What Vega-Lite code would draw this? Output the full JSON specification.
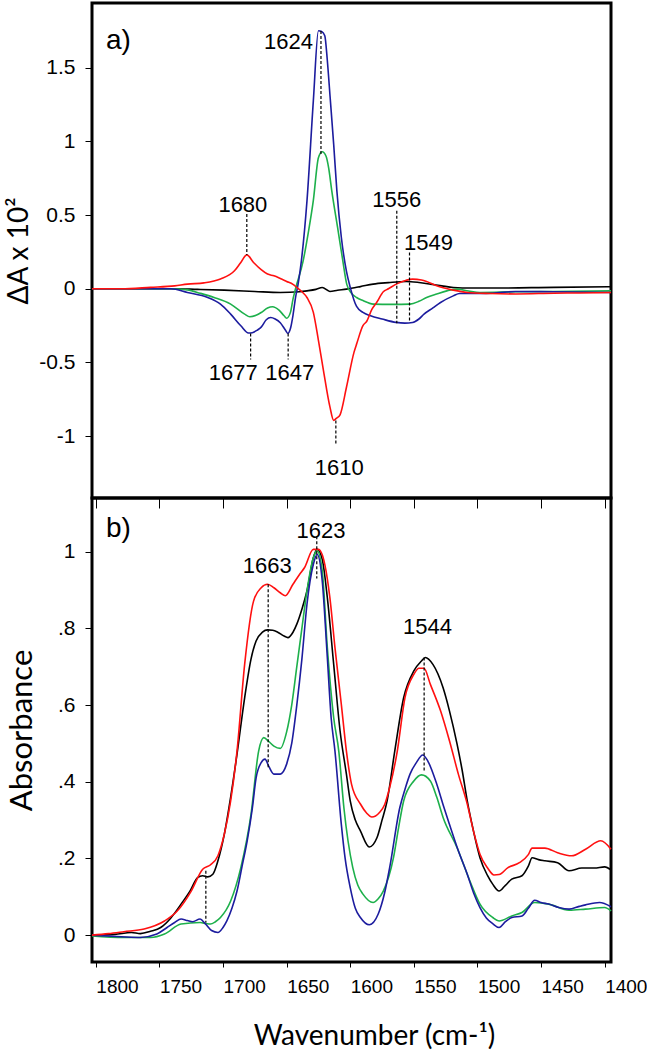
{
  "$schema": "https://vega.github.io/schema/vega-lite/v6.json",
  "background": "white",
  "padding": {"left": 4, "top": 1, "right": 0, "bottom": 2},
  "spacing": 0,
  "bounds": "flush",
  "config": {
    "view": {"stroke": "black", "strokeWidth": 3},
    "axis": {"grid": false, "domain": false, "tickColor": "black", "labelColor": "black", "titleColor": "black", "labelFont": "Liberation Sans", "titleFont": "Lato", "titleFontWeight": "normal", "labelOverlap": false}
  },
  "datasets": {
    "a": [
      {"s":"black","x":1803,"y":0},{"s":"black","x":1760,"y":0},{"s":"black","x":1738,"y":0},{"s":"black","x":1720,"y":-0.004},{"s":"black","x":1699,"y":-0.009},{"s":"black","x":1675,"y":-0.018},{"s":"black","x":1655,"y":-0.025},{"s":"black","x":1640,"y":-0.02},{"s":"black","x":1634,"y":-0.014},{"s":"black","x":1627,"y":-0.004},{"s":"black","x":1622,"y":0.009},{"s":"black","x":1616,"y":-0.018},{"s":"black","x":1610,"y":-0.01},{"s":"black","x":1603,"y":-0.002},{"s":"black","x":1592,"y":0.015},{"s":"black","x":1582,"y":0.032},{"s":"black","x":1570,"y":0.042},{"s":"black","x":1556,"y":0.05},{"s":"black","x":1546,"y":0.043},{"s":"black","x":1537,"y":0.032},{"s":"black","x":1528,"y":0.02},{"s":"black","x":1519,"y":0.009},{"s":"black","x":1505,"y":0.005},{"s":"black","x":1490,"y":0.005},{"s":"black","x":1440,"y":0.01},{"s":"black","x":1395,"y":0.014},
      {"s":"green","x":1803,"y":0},{"s":"green","x":1760,"y":0},{"s":"green","x":1740,"y":0},{"s":"green","x":1728,"y":-0.007},{"s":"green","x":1718,"y":-0.03},{"s":"green","x":1707,"y":-0.059},{"s":"green","x":1694,"y":-0.104},{"s":"green","x":1683,"y":-0.172},{"s":"green","x":1679,"y":-0.19},{"s":"green","x":1674,"y":-0.18},{"s":"green","x":1670,"y":-0.161},{"s":"green","x":1665,"y":-0.13},{"s":"green","x":1661,"y":-0.122},{"s":"green","x":1656,"y":-0.145},{"s":"green","x":1652,"y":-0.183},{"s":"green","x":1650,"y":-0.2},{"s":"green","x":1647,"y":-0.16},{"s":"green","x":1645,"y":-0.07},{"s":"green","x":1643,"y":0},{"s":"green","x":1637,"y":0.19},{"s":"green","x":1633,"y":0.38},{"s":"green","x":1629,"y":0.6},{"s":"green","x":1625,"y":0.89},{"s":"green","x":1622,"y":0.93},{"s":"green","x":1619,"y":0.9},{"s":"green","x":1617,"y":0.823},{"s":"green","x":1614.5,"y":0.665},{"s":"green","x":1610,"y":0.42},{"s":"green","x":1606,"y":0.2},{"s":"green","x":1602.7,"y":0.03},{"s":"green","x":1599,"y":-0.03},{"s":"green","x":1595,"y":-0.059},{"s":"green","x":1590,"y":-0.08},{"s":"green","x":1582,"y":-0.104},{"s":"green","x":1567,"y":-0.106},{"s":"green","x":1553,"y":-0.104},{"s":"green","x":1546,"y":-0.085},{"s":"green","x":1540,"y":-0.059},{"s":"green","x":1532,"y":-0.035},{"s":"green","x":1524,"y":-0.014},{"s":"green","x":1516,"y":-0.002},{"s":"green","x":1507,"y":-0.015},{"s":"green","x":1498,"y":-0.025},{"s":"green","x":1470,"y":-0.02},{"s":"green","x":1440,"y":-0.018},{"s":"green","x":1395,"y":-0.014},
      {"s":"blue","x":1803,"y":0},{"s":"blue","x":1760,"y":0},{"s":"blue","x":1741,"y":0},{"s":"blue","x":1728,"y":-0.025},{"s":"blue","x":1712,"y":-0.059},{"s":"blue","x":1702,"y":-0.104},{"s":"blue","x":1694,"y":-0.172},{"s":"blue","x":1686,"y":-0.251},{"s":"blue","x":1680,"y":-0.3},{"s":"blue","x":1677,"y":-0.298},{"s":"blue","x":1673,"y":-0.28},{"s":"blue","x":1670,"y":-0.26},{"s":"blue","x":1666,"y":-0.21},{"s":"blue","x":1662.5,"y":-0.195},{"s":"blue","x":1659,"y":-0.205},{"s":"blue","x":1655,"y":-0.23},{"s":"blue","x":1651,"y":-0.28},{"s":"blue","x":1649,"y":-0.303},{"s":"blue","x":1647,"y":-0.27},{"s":"blue","x":1645,"y":-0.18},{"s":"blue","x":1643,"y":-0.06},{"s":"blue","x":1641,"y":0.03},{"s":"blue","x":1638.4,"y":0.19},{"s":"blue","x":1634,"y":0.597},{"s":"blue","x":1629,"y":1.276},{"s":"blue","x":1625,"y":1.752},{"s":"blue","x":1622.5,"y":1.747},{"s":"blue","x":1620,"y":1.718},{"s":"blue","x":1618,"y":1.55},{"s":"blue","x":1615.8,"y":1.3},{"s":"blue","x":1613,"y":0.98},{"s":"blue","x":1610.5,"y":0.665},{"s":"blue","x":1607,"y":0.35},{"s":"blue","x":1603,"y":0.12},{"s":"blue","x":1600,"y":0.01},{"s":"blue","x":1595,"y":-0.12},{"s":"blue","x":1590,"y":-0.16},{"s":"blue","x":1584,"y":-0.183},{"s":"blue","x":1575,"y":-0.205},{"s":"blue","x":1564,"y":-0.228},{"s":"blue","x":1557,"y":-0.233},{"s":"blue","x":1551,"y":-0.229},{"s":"blue","x":1546,"y":-0.205},{"s":"blue","x":1542,"y":-0.172},{"s":"blue","x":1535,"y":-0.13},{"s":"blue","x":1529,"y":-0.093},{"s":"blue","x":1519,"y":-0.048},{"s":"blue","x":1514,"y":-0.032},{"s":"blue","x":1498,"y":-0.032},{"s":"blue","x":1488,"y":-0.03},{"s":"blue","x":1470,"y":-0.018},{"s":"blue","x":1440,"y":-0.02},{"s":"blue","x":1395,"y":-0.025},
      {"s":"red","x":1803,"y":0},{"s":"red","x":1780,"y":0},{"s":"red","x":1757,"y":0.01},{"s":"red","x":1738,"y":0.02},{"s":"red","x":1728,"y":0.032},{"s":"red","x":1715,"y":0.04},{"s":"red","x":1702,"y":0.066},{"s":"red","x":1691,"y":0.122},{"s":"red","x":1686,"y":0.179},{"s":"red","x":1681.3,"y":0.23},{"s":"red","x":1676,"y":0.179},{"s":"red","x":1670,"y":0.13},{"s":"red","x":1665,"y":0.1},{"s":"red","x":1660,"y":0.088},{"s":"red","x":1655,"y":0.07},{"s":"red","x":1650,"y":0.05},{"s":"red","x":1645,"y":0.03},{"s":"red","x":1642,"y":0.009},{"s":"red","x":1638,"y":-0.02},{"s":"red","x":1634,"y":-0.059},{"s":"red","x":1629,"y":-0.16},{"s":"red","x":1625,"y":-0.35},{"s":"red","x":1621,"y":-0.557},{"s":"red","x":1616,"y":-0.8},{"s":"red","x":1613,"y":-0.893},{"s":"red","x":1611,"y":-0.88},{"s":"red","x":1608,"y":-0.855},{"s":"red","x":1603,"y":-0.67},{"s":"red","x":1597,"y":-0.43},{"s":"red","x":1594.8,"y":-0.37},{"s":"red","x":1590,"y":-0.25},{"s":"red","x":1587,"y":-0.22},{"s":"red","x":1583,"y":-0.14},{"s":"red","x":1579,"y":-0.09},{"s":"red","x":1574,"y":-0.02},{"s":"red","x":1570,"y":0.0},{"s":"red","x":1563,"y":0.035},{"s":"red","x":1556,"y":0.058},{"s":"red","x":1551,"y":0.066},{"s":"red","x":1544,"y":0.06},{"s":"red","x":1540,"y":0.05},{"s":"red","x":1532,"y":0.02},{"s":"red","x":1519,"y":-0.009},{"s":"red","x":1508,"y":-0.025},{"s":"red","x":1490,"y":-0.032},{"s":"red","x":1470,"y":-0.035},{"s":"red","x":1440,"y":-0.03},{"s":"red","x":1420,"y":-0.028},{"s":"red","x":1395,"y":-0.025}
    ],
    "b": [
      {"s":"black","x":1803,"y":0},{"s":"black","x":1785,"y":0.002},{"s":"black","x":1772,"y":0.007},{"s":"black","x":1765,"y":0.004},{"s":"black","x":1757,"y":0.01},{"s":"black","x":1749,"y":0.02},{"s":"black","x":1741,"y":0.045},{"s":"black","x":1733,"y":0.081},{"s":"black","x":1726,"y":0.115},{"s":"black","x":1720,"y":0.15},{"s":"black","x":1716,"y":0.155},{"s":"black","x":1712,"y":0.152},{"s":"black","x":1708,"y":0.159},{"s":"black","x":1704,"y":0.194},{"s":"black","x":1699,"y":0.263},{"s":"black","x":1694,"y":0.36},{"s":"black","x":1689,"y":0.472},{"s":"black","x":1683,"y":0.619},{"s":"black","x":1678,"y":0.72},{"s":"black","x":1674,"y":0.767},{"s":"black","x":1669,"y":0.79},{"s":"black","x":1665,"y":0.796},{"s":"black","x":1661,"y":0.795},{"s":"black","x":1657,"y":0.79},{"s":"black","x":1652,"y":0.78},{"s":"black","x":1649,"y":0.776},{"s":"black","x":1645,"y":0.79},{"s":"black","x":1642,"y":0.811},{"s":"black","x":1638,"y":0.85},{"s":"black","x":1634,"y":0.898},{"s":"black","x":1629,"y":0.984},{"s":"black","x":1626,"y":1.006},{"s":"black","x":1622,"y":0.98},{"s":"black","x":1618,"y":0.88},{"s":"black","x":1613,"y":0.706},{"s":"black","x":1608,"y":0.533},{"s":"black","x":1603,"y":0.42},{"s":"black","x":1600,"y":0.35},{"s":"black","x":1596,"y":0.3},{"s":"black","x":1592,"y":0.272},{"s":"black","x":1585,"y":0.23},{"s":"black","x":1579,"y":0.254},{"s":"black","x":1575,"y":0.3},{"s":"black","x":1571,"y":0.35},{"s":"black","x":1565,"y":0.48},{"s":"black","x":1558,"y":0.619},{"s":"black","x":1550,"y":0.689},{"s":"black","x":1544,"y":0.715},{"s":"black","x":1541,"y":0.724},{"s":"black","x":1535,"y":0.706},{"s":"black","x":1527,"y":0.645},{"s":"black","x":1522,"y":0.585},{"s":"black","x":1516,"y":0.498},{"s":"black","x":1512,"y":0.43},{"s":"black","x":1508,"y":0.35},{"s":"black","x":1503,"y":0.27},{"s":"black","x":1498,"y":0.202},{"s":"black","x":1492,"y":0.155},{"s":"black","x":1488,"y":0.133},{"s":"black","x":1483,"y":0.115},{"s":"black","x":1478,"y":0.13},{"s":"black","x":1473,"y":0.146},{"s":"black","x":1465,"y":0.155},{"s":"black","x":1460,"y":0.18},{"s":"black","x":1457,"y":0.202},{"s":"black","x":1452,"y":0.197},{"s":"black","x":1447,"y":0.194},{"s":"black","x":1437,"y":0.189},{"s":"black","x":1428,"y":0.168},{"s":"black","x":1418,"y":0.175},{"s":"black","x":1408,"y":0.175},{"s":"black","x":1400,"y":0.178},{"s":"black","x":1395,"y":0.17},
      {"s":"green","x":1803,"y":-0.002},{"s":"green","x":1778,"y":-0.006},{"s":"green","x":1757,"y":-0.006},{"s":"green","x":1746,"y":0.003},{"s":"green","x":1733,"y":0.029},{"s":"green","x":1718,"y":0.033},{"s":"green","x":1713,"y":0.03},{"s":"green","x":1710,"y":0.029},{"s":"green","x":1706,"y":0.035},{"s":"green","x":1702,"y":0.046},{"s":"green","x":1694,"y":0.089},{"s":"green","x":1686,"y":0.176},{"s":"green","x":1678,"y":0.315},{"s":"green","x":1672,"y":0.48},{"s":"green","x":1668,"y":0.515},{"s":"green","x":1664,"y":0.505},{"s":"green","x":1660,"y":0.493},{"s":"green","x":1655,"y":0.487},{"s":"green","x":1650,"y":0.53},{"s":"green","x":1646,"y":0.6},{"s":"green","x":1642,"y":0.7},{"s":"green","x":1638,"y":0.8},{"s":"green","x":1634,"y":0.898},{"s":"green","x":1629,"y":0.984},{"s":"green","x":1626,"y":1.002},{"s":"green","x":1622,"y":0.95},{"s":"green","x":1618,"y":0.75},{"s":"green","x":1613,"y":0.567},{"s":"green","x":1609,"y":0.48},{"s":"green","x":1605,"y":0.333},{"s":"green","x":1598,"y":0.176},{"s":"green","x":1594,"y":0.13},{"s":"green","x":1590,"y":0.107},{"s":"green","x":1582,"y":0.085},{"s":"green","x":1578,"y":0.095},{"s":"green","x":1574,"y":0.115},{"s":"green","x":1566,"y":0.202},{"s":"green","x":1562,"y":0.28},{"s":"green","x":1558,"y":0.35},{"s":"green","x":1550,"y":0.402},{"s":"green","x":1544,"y":0.418},{"s":"green","x":1537,"y":0.402},{"s":"green","x":1532,"y":0.36},{"s":"green","x":1527,"y":0.307},{"s":"green","x":1516,"y":0.228},{"s":"green","x":1506,"y":0.142},{"s":"green","x":1498,"y":0.081},{"s":"green","x":1488,"y":0.046},{"s":"green","x":1483,"y":0.037},{"s":"green","x":1473,"y":0.05},{"s":"green","x":1465,"y":0.059},{"s":"green","x":1455,"y":0.085},{"s":"green","x":1444,"y":0.081},{"s":"green","x":1428,"y":0.065},{"s":"green","x":1415,"y":0.068},{"s":"green","x":1400,"y":0.072},{"s":"green","x":1395,"y":0.063},
      {"s":"blue","x":1803,"y":0},{"s":"blue","x":1780,"y":-0.004},{"s":"blue","x":1765,"y":-0.006},{"s":"blue","x":1752,"y":0.003},{"s":"blue","x":1744,"y":0.02},{"s":"blue","x":1738,"y":0.033},{"s":"blue","x":1733,"y":0.042},{"s":"blue","x":1728,"y":0.038},{"s":"blue","x":1724,"y":0.035},{"s":"blue","x":1718,"y":0.042},{"s":"blue","x":1714,"y":0.03},{"s":"blue","x":1709,"y":0.012},{"s":"blue","x":1704,"y":0.007},{"s":"blue","x":1700,"y":0.02},{"s":"blue","x":1697,"y":0.037},{"s":"blue","x":1693,"y":0.07},{"s":"blue","x":1689,"y":0.115},{"s":"blue","x":1685,"y":0.18},{"s":"blue","x":1681,"y":0.246},{"s":"blue","x":1677,"y":0.33},{"s":"blue","x":1674,"y":0.41},{"s":"blue","x":1670,"y":0.45},{"s":"blue","x":1667,"y":0.459},{"s":"blue","x":1664,"y":0.44},{"s":"blue","x":1660,"y":0.42},{"s":"blue","x":1655,"y":0.42},{"s":"blue","x":1650,"y":0.446},{"s":"blue","x":1646,"y":0.5},{"s":"blue","x":1642,"y":0.6},{"s":"blue","x":1638,"y":0.72},{"s":"blue","x":1634,"y":0.863},{"s":"blue","x":1629,"y":0.967},{"s":"blue","x":1626,"y":0.993},{"s":"blue","x":1622,"y":0.924},{"s":"blue","x":1618,"y":0.724},{"s":"blue","x":1615,"y":0.567},{"s":"blue","x":1612,"y":0.48},{"s":"blue","x":1607,"y":0.289},{"s":"blue","x":1604,"y":0.2},{"s":"blue","x":1600,"y":0.124},{"s":"blue","x":1596,"y":0.07},{"s":"blue","x":1592,"y":0.046},{"s":"blue","x":1585,"y":0.027},{"s":"blue","x":1578,"y":0.055},{"s":"blue","x":1573,"y":0.11},{"s":"blue","x":1569,"y":0.176},{"s":"blue","x":1561,"y":0.333},{"s":"blue","x":1557,"y":0.38},{"s":"blue","x":1553,"y":0.42},{"s":"blue","x":1548,"y":0.45},{"s":"blue","x":1543,"y":0.47},{"s":"blue","x":1539,"y":0.454},{"s":"blue","x":1532,"y":0.394},{"s":"blue","x":1527,"y":0.34},{"s":"blue","x":1522,"y":0.289},{"s":"blue","x":1515,"y":0.22},{"s":"blue","x":1508,"y":0.159},{"s":"blue","x":1503,"y":0.11},{"s":"blue","x":1498,"y":0.072},{"s":"blue","x":1493,"y":0.045},{"s":"blue","x":1488,"y":0.03},{"s":"blue","x":1483,"y":0.02},{"s":"blue","x":1478,"y":0.035},{"s":"blue","x":1473,"y":0.046},{"s":"blue","x":1465,"y":0.05},{"s":"blue","x":1460,"y":0.07},{"s":"blue","x":1455,"y":0.091},{"s":"blue","x":1450,"y":0.085},{"s":"blue","x":1444,"y":0.081},{"s":"blue","x":1436,"y":0.072},{"s":"blue","x":1428,"y":0.068},{"s":"blue","x":1420,"y":0.075},{"s":"blue","x":1415,"y":0.079},{"s":"blue","x":1404,"y":0.085},{"s":"blue","x":1395,"y":0.074},
      {"s":"red","x":1803,"y":0},{"s":"red","x":1790,"y":0.004},{"s":"red","x":1778,"y":0.009},{"s":"red","x":1762,"y":0.016},{"s":"red","x":1746,"y":0.037},{"s":"red","x":1736,"y":0.063},{"s":"red","x":1725,"y":0.115},{"s":"red","x":1716,"y":0.172},{"s":"red","x":1710,"y":0.183},{"s":"red","x":1704,"y":0.207},{"s":"red","x":1699,"y":0.263},{"s":"red","x":1694,"y":0.35},{"s":"red","x":1689,"y":0.48},{"s":"red","x":1683,"y":0.706},{"s":"red","x":1676,"y":0.871},{"s":"red","x":1670,"y":0.906},{"s":"red","x":1665,"y":0.915},{"s":"red","x":1660,"y":0.906},{"s":"red","x":1655,"y":0.893},{"s":"red","x":1651,"y":0.885},{"s":"red","x":1645,"y":0.915},{"s":"red","x":1640,"y":0.94},{"s":"red","x":1636,"y":0.958},{"s":"red","x":1629,"y":1.006},{"s":"red","x":1625,"y":1.006},{"s":"red","x":1620,"y":0.967},{"s":"red","x":1616,"y":0.88},{"s":"red","x":1612,"y":0.75},{"s":"red","x":1607,"y":0.602},{"s":"red","x":1603,"y":0.48},{"s":"red","x":1599,"y":0.394},{"s":"red","x":1592,"y":0.342},{"s":"red","x":1587,"y":0.318},{"s":"red","x":1583,"y":0.308},{"s":"red","x":1577,"y":0.32},{"s":"red","x":1573,"y":0.34},{"s":"red","x":1569,"y":0.385},{"s":"red","x":1563,"y":0.48},{"s":"red","x":1557,"y":0.619},{"s":"red","x":1550,"y":0.68},{"s":"red","x":1546,"y":0.696},{"s":"red","x":1542,"y":0.696},{"s":"red","x":1537,"y":0.654},{"s":"red","x":1529,"y":0.585},{"s":"red","x":1522,"y":0.507},{"s":"red","x":1515,"y":0.42},{"s":"red","x":1508,"y":0.342},{"s":"red","x":1503,"y":0.27},{"s":"red","x":1498,"y":0.211},{"s":"red","x":1492,"y":0.175},{"s":"red","x":1487,"y":0.157},{"s":"red","x":1483,"y":0.158},{"s":"red","x":1476,"y":0.176},{"s":"red","x":1467,"y":0.189},{"s":"red","x":1460,"y":0.21},{"s":"red","x":1457,"y":0.227},{"s":"red","x":1447,"y":0.227},{"s":"red","x":1437,"y":0.215},{"s":"red","x":1426,"y":0.207},{"s":"red","x":1415,"y":0.224},{"s":"red","x":1403,"y":0.246},{"s":"red","x":1395,"y":0.224}
    ],
    "ra": [
      {"x":1623,"y":1.75,"y2":0.91},{"x":1681.3,"y":0.507,"y2":0.23},{"x":1563.4,"y":0.53,"y2":-0.234},{"x":1553.4,"y":0.247,"y2":-0.229},{"x":1678.3,"y":-0.303,"y2":-0.48},{"x":1648.8,"y":-0.303,"y2":-0.48},{"x":1611.3,"y":-0.894,"y2":-1.064}
    ],
    "ta": [
      {"t":"1624","x":1648.6,"y":1.672},{"t":"1680","x":1684.4,"y":0.57},{"t":"1556","x":1563.4,"y":0.604},{"t":"1549","x":1538.5,"y":0.314},{"t":"1677","x":1692,"y":-0.574},{"t":"1647","x":1647.5,"y":-0.572},{"t":"1610","x":1608.6,"y":-1.217}
    ],
    "rb": [
      {"x":1626.3,"y":1.04,"y2":0.93},{"x":1664.5,"y":0.915,"y2":0.433},{"x":1541.9,"y":0.724,"y2":0.424},{"x":1713.5,"y":0.168,"y2":0.033}
    ],
    "tb": [
      {"t":"1623","x":1623,"y":1.054},{"t":"1663","x":1665.2,"y":0.962},{"t":"1544","x":1539.2,"y":0.804}
    ],
    "pa": [{"t":"a)","x":1792,"y":1.684}],
    "pb": [{"t":"b)","x":1792,"y":1.06}]
  },
  "vconcat": [
    {
      "width": 519,
      "height": 495,
      "layer": [
        {
          "data": {"name": "a"},
          "mark": {"type": "line", "strokeWidth": 1.6, "interpolate": "monotone"},
          "encoding": {
            "x": {"field": "x", "type": "quantitative", "scale": {"domain": [1803, 1395], "nice": false, "zero": false},
                  "axis": {"values": [1800,1750,1700,1650,1600,1550,1500,1450,1400], "labels": false, "tickSize": 10, "title": null}},
            "y": {"field": "y", "type": "quantitative", "scale": {"domain": [-1.42, 1.94], "nice": false, "zero": false},
                  "axis": {"values": [-1,-0.5,0,0.5,1,1.5], "tickSize": 7, "labelPadding": 10, "labelFontSize": 21,
                           "labelExpr": "(datum.value < 0 ? '-' : '') + format(abs(datum.value), '~g')",
                           "title": "ΔA x 10²", "titleFontSize": 28, "titlePadding": 5}},
            "color": {"field": "s", "type": "nominal", "scale": {"domain": ["black","green","blue","red"], "range": ["#000000","#1db04b","#1c1c9e","#ff1010"]}, "legend": null},
            "order": {"field": "x", "type": "quantitative", "sort": "descending"}
          }
        },
        {
          "data": {"name": "ra"},
          "mark": {"type": "rule", "strokeDash": [3, 2], "strokeWidth": 1.2, "color": "black"},
          "encoding": {"x": {"field": "x", "type": "quantitative"}, "y": {"field": "y", "type": "quantitative"}, "y2": {"field": "y2"}}
        },
        {
          "data": {"name": "ta"},
          "mark": {"type": "text", "font": "Liberation Sans", "fontSize": 22, "align": "center", "baseline": "middle", "color": "black"},
          "encoding": {"x": {"field": "x", "type": "quantitative"}, "y": {"field": "y", "type": "quantitative"}, "text": {"field": "t"}}
        },
        {
          "data": {"name": "pa"},
          "mark": {"type": "text", "font": "Liberation Sans", "fontSize": 28, "align": "left", "baseline": "middle", "color": "black"},
          "encoding": {"x": {"field": "x", "type": "quantitative"}, "y": {"field": "y", "type": "quantitative"}, "text": {"field": "t"}}
        }
      ]
    },
    {
      "width": 519,
      "height": 464,
      "layer": [
        {
          "data": {"name": "b"},
          "mark": {"type": "line", "strokeWidth": 1.6, "interpolate": "monotone"},
          "encoding": {
            "x": {"field": "x", "type": "quantitative", "scale": {"domain": [1803, 1395], "nice": false, "zero": false},
                  "axis": {"values": [1800,1750,1700,1650,1600,1550,1500,1450,1400], "format": "d", "tickSize": 5, "labelAlign": "left", "labelFlush": false,
                           "labelPadding": 10, "labelFontSize": 19,
                           "title": "Wavenumber (cm-¹)", "titleFontSize": 28, "titleX": 282, "titleY": 82, "titleBaseline": "alphabetic"}},
            "y": {"field": "y", "type": "quantitative", "scale": {"domain": [-0.07, 1.14], "nice": false, "zero": false},
                  "axis": {"values": [0,0.2,0.4,0.6,0.8,1], "tickSize": 7, "labelPadding": 10, "labelFontSize": 21,
                           "labelExpr": "datum.value == 0 ? '0' : datum.value == 1 ? '1' : replace(format(datum.value, '.1f'), '0.', '.')",
                           "title": "Absorbance", "titleFontSize": 31, "titlePadding": 19}},
            "color": {"field": "s", "type": "nominal", "scale": {"domain": ["black","green","blue","red"], "range": ["#000000","#1db04b","#1c1c9e","#ff1010"]}, "legend": null},
            "order": {"field": "x", "type": "quantitative", "sort": "descending"}
          }
        },
        {
          "data": {"name": "rb"},
          "mark": {"type": "rule", "strokeDash": [3, 2], "strokeWidth": 1.2, "color": "black"},
          "encoding": {"x": {"field": "x", "type": "quantitative"}, "y": {"field": "y", "type": "quantitative"}, "y2": {"field": "y2"}}
        },
        {
          "data": {"name": "tb"},
          "mark": {"type": "text", "font": "Liberation Sans", "fontSize": 22, "align": "center", "baseline": "middle", "color": "black"},
          "encoding": {"x": {"field": "x", "type": "quantitative"}, "y": {"field": "y", "type": "quantitative"}, "text": {"field": "t"}}
        },
        {
          "data": {"name": "pb"},
          "mark": {"type": "text", "font": "Liberation Sans", "fontSize": 28, "align": "left", "baseline": "middle", "color": "black"},
          "encoding": {"x": {"field": "x", "type": "quantitative"}, "y": {"field": "y", "type": "quantitative"}, "text": {"field": "t"}}
        }
      ]
    }
  ]
}
